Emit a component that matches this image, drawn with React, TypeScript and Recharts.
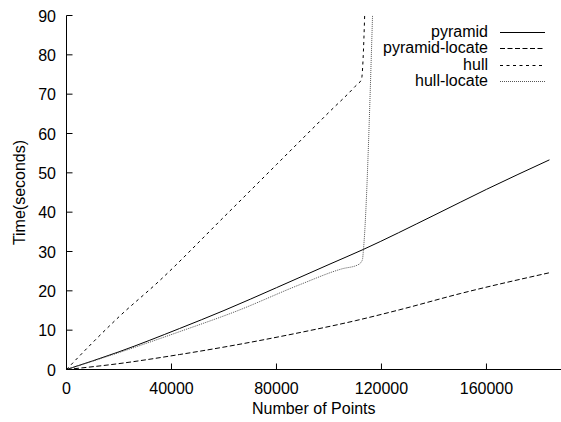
import { LineChart, Line, XAxis, YAxis, Legend } from "recharts";

const FONT = '"Liberation Sans", Arial, Helvetica, sans-serif';

const xTicks = [0, 40000, 80000, 120000, 160000];
const yTicks = [0, 10, 20, 30, 40, 50, 60, 70, 80, 90];

// values
const pyramidX = [0, 20000, 43000, 60000, 80000, 100000, 113000, 140000, 160000, 184000];
const pyramidY = [0, 4.5, 10.4, 15, 20.8, 26.7, 30.5, 39.2, 45.8, 53.3];

const pyramidLocateX = [0, 20000, 43000, 65000, 89000, 110000, 127000, 150000, 184000];
const pyramidLocateY = [0, 1.5, 3.8, 6.3, 9.4, 12.4, 15.2, 19.3, 24.6];

const hullX = [0, 9600, 20000, 35000, 60000, 80000, 100000, 110000, 112400, 113000, 113600];
const hullY = [0, 6.6, 13.4, 22.3, 38.8, 52.1, 65.4, 72, 73.8, 79, 90];

const hullLocateX = [0, 20000, 43000, 65000, 89000, 105000, 111000, 112700, 113200, 116600];
const hullLocateY = [0, 4.3, 9.6, 14.9, 21.6, 25.6, 26.6, 27.8, 31, 90];

const toPoints = (xs: number[], ys: number[]) => xs.map((x, i) => ({ x, v: ys[i] }));

const series = [
  { name: "pyramid", data: toPoints(pyramidX, pyramidY), color: "#000", dash: undefined },
  { name: "pyramid-locate", data: toPoints(pyramidLocateX, pyramidLocateY), color: "#000", dash: "5 2.5" },
  { name: "hull", data: toPoints(hullX, hullY), color: "#000", dash: "3 3.5" },
  { name: "hull-locate", data: toPoints(hullLocateX, hullLocateY), color: "#555", dash: "1 1" },
];

const textStyle = { fontFamily: FONT, fontSize: 16, fill: "#000" };

function BottomTick({ x, y, payload }: any) {
  return (
    <g>
      <line x1={x} x2={x} y1={y} y2={y - 6} stroke="#000" />
      <text x={x} y={y + 24} textAnchor="middle" style={textStyle}>
        {payload.value}
      </text>
    </g>
  );
}

function TopTick({ x, y }: any) {
  return <line x1={x} x2={x} y1={y} y2={y + 6} stroke="#000" />;
}

function LeftTick({ x, y, payload }: any) {
  return (
    <g>
      <line x1={x} x2={x + 6} y1={y} y2={y} stroke="#000" />
      <text x={x - 10.5} y={y + 6} textAnchor="end" style={textStyle}>
        {payload.value}
      </text>
    </g>
  );
}

function RightTick({ x, y }: any) {
  return <line x1={x} x2={x - 6} y1={y} y2={y} stroke="#000" />;
}

function LegendBox() {
  return (
    <div style={{ fontFamily: FONT, fontSize: 16, color: "#000" }}>
      {series.map((s) => (
        <div key={s.name} style={{ display: "flex", alignItems: "center", height: 16.3, lineHeight: "16.3px" }}>
          <span style={{ flex: 1, textAlign: "right" }}>{s.name}</span>
          <svg width={45} height={16} style={{ marginLeft: 12 }}>
            <line x1={0} x2={45} y1={8.5} y2={8.5} stroke={s.color} strokeDasharray={s.dash} />
          </svg>
        </div>
      ))}
    </div>
  );
}

export default function App() {
  return (
    <div style={{ position: "absolute", left: 0, top: 0 }}>
      <LineChart width={561} height={422} margin={{ top: 15.5, right: 0, bottom: 0, left: 0.5 }}>
        <XAxis
          dataKey="x"
          type="number"
          domain={[0, 188400]}
          ticks={xTicks}
          allowDataOverflow
          height={52.5}
          tickSize={0}
          tickMargin={0}
          tickLine={false}
          axisLine={{ stroke: "#000" }}
          tick={<BottomTick />}
          interval={0}
          label={{
            value: "Number of Points",
            content: (p: any) => (
              <text x={p.viewBox.x + p.viewBox.width / 2} y={414} textAnchor="middle" style={textStyle}>
                Number of Points
              </text>
            ),
          }}
        />
        <XAxis
          xAxisId="top"
          orientation="top"
          type="number"
          domain={[0, 188400]}
          ticks={xTicks}
          allowDataOverflow
          height={0}
          tickSize={0}
          tickMargin={0}
          tickLine={false}
          axisLine={{ stroke: "#000" }}
          tick={<TopTick />}
          interval={0}
        />
        <YAxis
          type="number"
          domain={[0, 90]}
          ticks={yTicks}
          allowDataOverflow
          width={66}
          tickSize={0}
          tickMargin={0}
          tickLine={false}
          axisLine={{ stroke: "#000" }}
          tick={<LeftTick />}
          interval={0}
          label={{
            value: "Time(seconds)",
            content: (p: any) => (
              <text
                x={0}
                y={0}
                transform={`translate(25, ${p.viewBox.y + p.viewBox.height / 2}) rotate(-90)`}
                textAnchor="middle"
                style={textStyle}
              >
                Time(seconds)
              </text>
            ),
          }}
        />
        <YAxis
          yAxisId="right"
          orientation="right"
          type="number"
          domain={[0, 90]}
          ticks={yTicks}
          allowDataOverflow
          width={0}
          tickSize={0}
          tickMargin={0}
          tickLine={false}
          axisLine={false}
          tick={<RightTick />}
          interval={0}
        />
        <Legend
          layout="horizontal"
          verticalAlign="middle"
          align="center"
          wrapperStyle={{ top: 24, left: 300, width: 245, height: "auto" }}
          content={() => <LegendBox />}
        />
        {series.map((s) => (
          <Line
            key={s.name}
            name={s.name}
            data={s.data}
            dataKey="v"
            type="monotone"
            stroke={s.color}
            strokeWidth={1}
            strokeDasharray={s.dash}
            dot={false}
            activeDot={false}
            isAnimationActive={false}
          />
        ))}
      </LineChart>
    </div>
  );
}
